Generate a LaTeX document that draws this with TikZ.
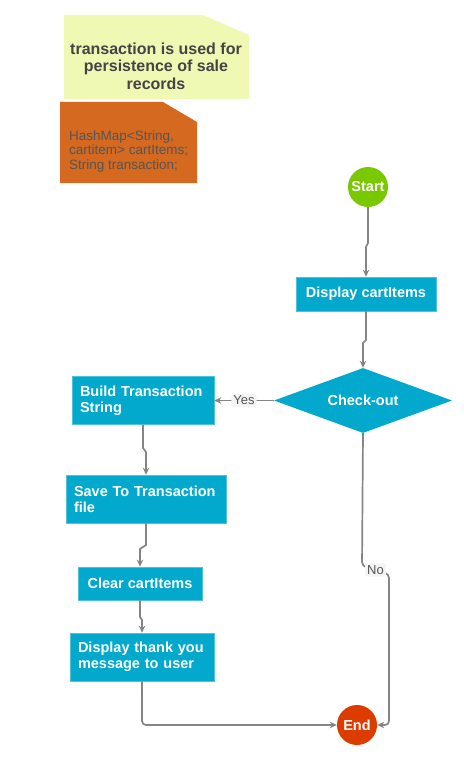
\documentclass[tikz,border=0pt]{standalone}
\usepackage{fontspec}
\setmainfont{Liberation Sans}
\usetikzlibrary{shapes.geometric,arrows.meta}
\definecolor{boxblue}{HTML}{02A9CC}
\definecolor{noteyellow}{HTML}{EFF9B4}
\definecolor{noteorange}{HTML}{D4691F}
\definecolor{startgreen}{HTML}{7AC800}
\definecolor{endred}{HTML}{DD3C00}
\definecolor{linegray}{HTML}{858585}
\definecolor{lblbg}{HTML}{F4F4F4}
\definecolor{darktext}{HTML}{444444}
\definecolor{graytext}{HTML}{555555}
\newcommand\bxfont{\fontsize{14.5}{16}\selectfont\bfseries}
\begin{document}
\begin{tikzpicture}[x=1pt,y=-1pt,
  procbox/.style={rectangle, fill=boxblue, draw=boxblue!70!white, line width=0.6pt, text=white, font=\bxfont, inner xsep=8pt, inner ysep=0pt},
  termnode/.style={circle, minimum size=40pt, inner sep=0pt, text=white, font=\bxfont},
  conn/.style={draw=linegray, line width=1.7pt, -{Stealth[length=7pt,width=6.5pt]}},
  lbl/.style={fill=lblbg, rounded corners=2pt, text=graytext, font=\fontsize{13}{13}\selectfont, inner sep=2pt}
]
\useasboundingbox (0,0) rectangle (463,765);

% notes
\fill[noteyellow] (64,15) -- (203,15) -- (249,35) -- (249,99) -- (64,99) -- cycle;
\node[text=darktext, font=\fontsize{16}{17.5}\selectfont\bfseries, align=center, inner sep=0pt] (note1) at (156,66) {transaction is used for\\persistence of sale\\records};
\fill[noteorange] (60,102) -- (163,102) -- (197,122) -- (197,183) -- (60,183) -- cycle;
\node[anchor=west, text=graytext, font=\fontsize{13.5}{14.7}\selectfont, align=left, inner sep=0pt] (note2) at (69,151.5) {HashMap<String,\\cartitem> cartItems;\\String transaction;};

% nodes
\node[termnode, fill=startgreen] (start) at (368,187) {Start};
\node[procbox, minimum width=140pt, minimum height=34pt, align=center] (disp) at (366,294) {Display cartItems};
\node[diamond, aspect=2.74, fill=boxblue, minimum width=178pt, minimum height=65pt, inner sep=0pt, text=white, font=\bxfont] (chk) at (363,400.5) {Check-out};
\node[procbox, minimum width=142pt, minimum height=48pt, text width=126pt, align=left] (build) at (143,400.5) {Build Transaction\\String};
\node[procbox, minimum width=160pt, minimum height=48pt, text width=144pt, align=left] (save) at (146,499) {Save To Transaction\\file};
\node[procbox, minimum width=124pt, minimum height=33pt, align=center] (clear) at (140,583.5) {Clear cartItems};
\node[procbox, minimum width=144pt, minimum height=48pt, text width=128pt, align=left] (thank) at (142,657) {Display thank you\\message to user};
\node[termnode, fill=endred] (end) at (357,725) {End};

% connectors
\draw[conn] (start.south) -- (368,243) -- (366,247) -- (disp.north);
\draw[conn] (disp.south) -- (366,340) -- (363,343) -- (chk.north);
\draw[conn] (chk.west) -- node[lbl] (yes) {Yes} (build.east);
\draw[conn] (build.south) -- (143,448) -- (146,452) -- (save.north);
\draw[conn] (save.south) -- (146,545) -- (140,549) -- (clear.north);
\draw[conn] (clear.south) -- (140,617) -- (142,620) -- (thank.north);
\draw[conn, rounded corners=4pt] (thank.south) |- (end.west);
\draw[conn, rounded corners=4pt] (chk.south) -- (362,566) -- node[lbl] (no) {No} (389,574) -- (389,725) -- (end.east);
\end{tikzpicture}
\end{document}
